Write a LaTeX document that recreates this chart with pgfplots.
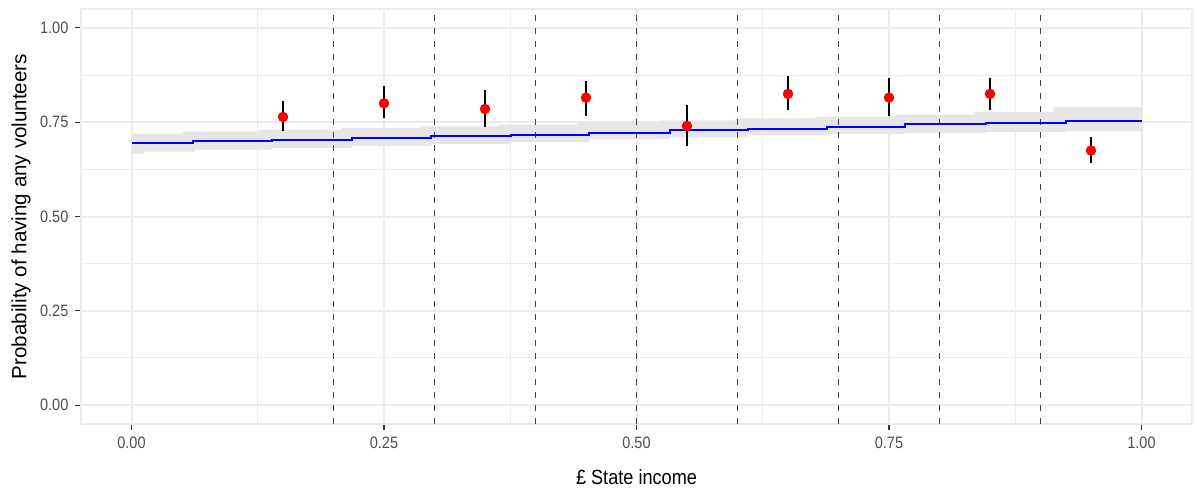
\documentclass[border=0pt]{standalone}
\usepackage{graphicx}
\usepackage{pgfplots}
\usepackage{pgfplotstable}
\pgfplotsset{compat=1.18}
\usepackage{fontspec}
\setmainfont{Liberation Sans}
\definecolor{gridc}{HTML}{EBEBEB}
\definecolor{ticklab}{HTML}{4D4D4D}
\definecolor{ribbonc}{HTML}{E6E6E6}
\definecolor{dashc}{HTML}{444444}
\newcommand{\cx}[1]{\scalebox{0.88}[1]{#1}}

\pgfplotstableread{
x y ep em
0.15 0.764 0.042 0.037
0.25 0.800 0.047 0.040
0.35 0.785 0.051 0.049
0.45 0.815 0.045 0.048
0.55 0.740 0.056 0.054
0.65 0.825 0.047 0.043
0.75 0.815 0.051 0.048
0.85 0.825 0.041 0.043
0.95 0.675 0.035 0.034
}\pts

\begin{document}
\begin{tikzpicture}
\begin{axis}[name=ax, scale only axis, width=555.5pt, height=207.5pt,
  xmin=-0.05, xmax=1.05, ymin=-0.05, ymax=1.05,
  xtick={0,0.25,0.5,0.75,1}, xticklabels={\cx{0.00},\cx{0.25},\cx{0.50},\cx{0.75},\cx{1.00}},
  ytick={0,0.25,0.5,0.75,1}, yticklabels={\cx{0.00},\cx{0.25},\cx{0.50},\cx{0.75},\cx{1.00}},
  minor xtick={0.125,0.375,0.625,0.875},
  minor ytick={0.125,0.375,0.625,0.875},
  grid=both,
  major grid style={gridc, line width=1pt},
  minor grid style={gridc, line width=0.5pt},
  axis line style={gridc, line width=1pt},
  tick pos=left, tick align=outside,
  major tick length=2.8pt, minor tick length=0pt,
  major tick style={black!80, line width=0.55pt},
  ticklabel style={font=\fontsize{8.25}{10}\selectfont, text=ticklab},
  label style={font=\fontsize{10.3}{12}\selectfont},
  xlabel={\cx{£ State income}},
  ylabel={Probability of having any volunteers},
  xlabel style={at={(axis description cs:0.5,-0.128)}, anchor=center},
  ylabel style={at={(axis description cs:-0.054,0.5)}, anchor=center},
]
% confidence ribbon (step shaped)
\addplot[fill=ribbonc, draw=none] coordinates {
 (0,0.720)(0.050,0.720)(0.050,0.725)(0.126,0.725)(0.126,0.730)(0.208,0.730)(0.208,0.735)(0.285,0.735)(0.285,0.739)(0.364,0.739)(0.364,0.744)(0.441,0.744)(0.441,0.750)(0.521,0.750)(0.521,0.755)(0.598,0.755)(0.598,0.760)(0.677,0.760)(0.677,0.765)(0.754,0.765)(0.754,0.770)(0.834,0.770)(0.834,0.777)(0.913,0.777)(0.913,0.790)(1,0.790)
 (1,0.726)(0.925,0.726)(0.925,0.724)(0.846,0.724)(0.846,0.722)(0.766,0.722)(0.766,0.719)(0.689,0.719)(0.689,0.715)(0.610,0.715)(0.610,0.710)(0.533,0.710)(0.533,0.705)(0.453,0.705)(0.453,0.698)(0.376,0.698)(0.376,0.692)(0.297,0.692)(0.297,0.687)(0.218,0.687)(0.218,0.682)(0.139,0.682)(0.139,0.677)(0.063,0.677)(0.063,0.672)(0.0125,0.672)(0.0125,0.667)(0,0.667)
} -- cycle;
% dashed vertical lines
\pgfplotsinvokeforeach{0.2,0.3,0.4,0.5,0.6,0.7,0.8,0.9}{
  \addplot[dashc, line width=0.8pt, dash pattern=on 3.2pt off 3.3pt] coordinates {(#1,-0.05) (#1,1.05)};
}
% fitted step line
\addplot[blue, line width=1pt, const plot] coordinates {
 (0,0.694)(0.061,0.699)(0.139,0.704)(0.218,0.708)(0.297,0.713)(0.376,0.717)(0.453,0.722)(0.533,0.728)(0.610,0.733)(0.689,0.738)(0.766,0.744)(0.846,0.749)(0.925,0.754)(1,0.754)
};
% error bars
\addplot[draw=none, mark=none, error bars/.cd, y dir=both, y explicit, error mark=none,
  error bar style={draw=black, line width=0.9pt}]
  table[x=x, y=y, y error plus=ep, y error minus=em]{\pts};
% points
\addplot[only marks, mark=*, mark size=2.4pt, mark options={fill=red, draw=red}] table[x=x, y=y]{\pts};
\end{axis}
\pgfresetboundingbox
\path ([xshift=-40.5pt,yshift=-35pt]ax.south west) rectangle ([xshift=2.5pt,yshift=4.5pt]ax.north east);
\end{tikzpicture}
\end{document}
